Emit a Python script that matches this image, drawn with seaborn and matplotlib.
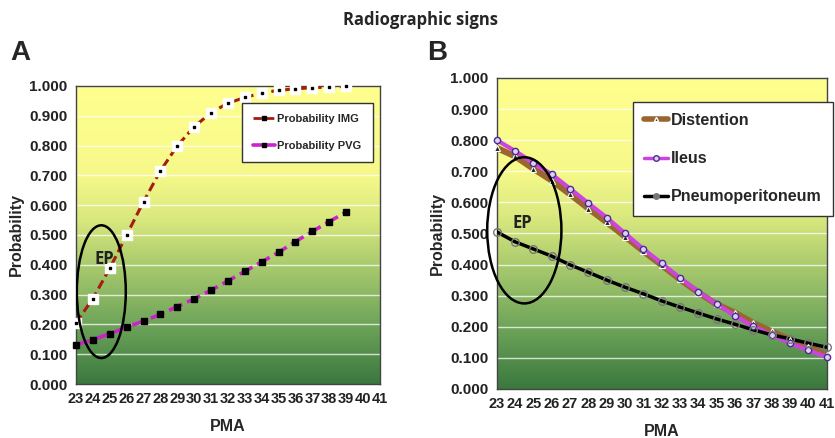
import numpy as np
import pandas as pd
import matplotlib
matplotlib.use('Agg')
import matplotlib.pyplot as plt
from matplotlib.patches import Ellipse
from matplotlib.colors import LinearSegmentedColormap
from matplotlib.ticker import FormatStrFormatter
import seaborn as sns

# panel A
pma_a = list(range(23, 40))
img = [0.205, 0.287, 0.388, 0.500, 0.612, 0.715, 0.799, 0.863, 0.910, 0.942,
       0.961, 0.976, 0.985, 0.990, 0.994, 0.996, 0.998]
pvg = [0.132, 0.149, 0.169, 0.191, 0.211, 0.234, 0.260, 0.286, 0.315, 0.346,
       0.378, 0.410, 0.442, 0.478, 0.512, 0.545, 0.577]

# panel B
pma_b = list(range(23, 42))
distention = [0.775, 0.748, 0.708, 0.670, 0.626, 0.580, 0.536, 0.490, 0.443, 0.398,
              0.352, 0.310, 0.272, 0.245, 0.212, 0.185, 0.158, 0.134, 0.110]
ileus = [0.800, 0.765, 0.727, 0.690, 0.644, 0.597, 0.551, 0.500, 0.450, 0.404,
         0.356, 0.313, 0.272, 0.235, 0.201, 0.174, 0.147, 0.124, 0.103]
pneumo = [0.505, 0.473, 0.450, 0.427, 0.399, 0.375, 0.350, 0.327, 0.306, 0.283,
          0.263, 0.244, 0.225, 0.208, 0.190, 0.174, 0.161, 0.147, 0.134]

xticks = list(range(23, 42))
yticks = [0.0, 0.1, 0.2, 0.3, 0.4, 0.5, 0.6, 0.7, 0.8, 0.9, 1.0]

df_a = pd.DataFrame({'PMA': pma_a, 'IMG': img, 'PVG': pvg})
df_b = pd.DataFrame({'PMA': pma_b, 'Distention': distention, 'Ileus': ileus,
                     'Pneumo': pneumo})

sns.set_style('white')
plt.rcParams['font.family'] = ['Liberation Sans', 'DejaVu Sans']

bg = LinearSegmentedColormap.from_list('bg', [
    (0.0, '#3a783e'), (0.2, '#6fa55a'), (0.4, '#aacb6e'),
    (0.55, '#d9e87e'), (0.7, '#f6f98a'), (1.0, '#ffff8e')])


def setup(ax):
    grad = np.linspace(0, 1, 256).reshape(-1, 1)
    ax.imshow(grad, cmap=bg, origin='lower', extent=[0, 1, 0, 1],
              transform=ax.transAxes, aspect='auto', zorder=0)
    for y in yticks[1:]:
        ax.axhline(y, color='white', lw=1, alpha=0.75, zorder=1)
    ax.set_xlim(23, 41)
    ax.set_ylim(0, 1)
    ax.set_xticks(xticks)
    ax.set_yticks(yticks)
    ax.yaxis.set_major_formatter(FormatStrFormatter('%.3f'))
    ax.tick_params(axis='both', direction='out', length=4, width=1,
                   color='#333333', pad=2)
    ax.tick_params(axis='y', labelsize=11)
    ax.tick_params(axis='x', labelsize=10.5)
    for lab in ax.get_xticklabels() + ax.get_yticklabels():
        lab.set_fontweight('bold')
        lab.set_color('#222222')
    for s in ax.spines.values():
        s.set_color('#444444')
        s.set_linewidth(1)
    ax.set_xlabel('PMA', fontsize=11.5, fontweight='bold', labelpad=9)
    ax.set_ylabel('Probability', fontsize=11.5, fontweight='bold', labelpad=4)


fig = plt.figure(figsize=(8.35, 4.38), dpi=100)
ax1 = fig.add_axes([0.091, 0.123, 0.364, 0.681])
ax2 = fig.add_axes([0.595, 0.112, 0.395, 0.710])

# ---- A ----
setup(ax1)
sns.lineplot(data=df_a, x='PMA', y='IMG', ax=ax1, color='#a51c10', lw=2.2,
             linestyle=(0, (3, 1.5)), zorder=3)
sns.lineplot(data=df_a, x='PMA', y='PVG', ax=ax1, color='#cc22cc', lw=2.6,
             linestyle=(0, (4, 1.5)), zorder=3)
ax1.plot(df_a['PMA'], df_a['IMG'], ls='none', marker='s', ms=7, mfc='white',
         mec='white', zorder=4, clip_on=False)
ax1.plot(df_a['PMA'], df_a['IMG'], ls='none', marker='s', ms=2, mfc='black',
         mec='black', zorder=5, clip_on=False)
ax1.plot(df_a['PMA'], df_a['PVG'], ls='none', marker='s', ms=3.8, mfc='black',
         mec='black', zorder=5, clip_on=False)
ax1.add_patch(Ellipse((24.5, 0.31), 2.9, 0.445, fill=False, lw=1.8,
                      ec='black', zorder=6))
ax1.text(24.7, 0.42, 'EP', fontsize=12, fontweight='bold', ha='center',
         va='center', color='#222222', family=['Open Sans', 'DejaVu Sans'],
         zorder=7)
hA = [plt.Line2D([], [], color='#a51c10', lw=2, ls=(0, (3, 1.5)), marker='s',
                 ms=2.5, mfc='black', mec='black'),
      plt.Line2D([], [], color='#cc22cc', lw=2.6, marker='s', ms=3,
                 mfc='black', mec='black')]
legA = ax1.legend(hA, ['Probability IMG', 'Probability PVG'], loc='upper left',
                  bbox_to_anchor=(0.546, 0.943), borderaxespad=0,
                  fancybox=False, frameon=True,
                  edgecolor='#333333', facecolor='white', framealpha=1,
                  prop={'size': 8, 'weight': 'bold'}, handlelength=2.0,
                  handletextpad=0.2, labelspacing=1.5, borderpad=1.0)
legA.get_frame().set_linewidth(1)
legA.set_zorder(8)

# ---- B ----
setup(ax2)
sns.lineplot(data=df_b, x='PMA', y='Distention', ax=ax2, color='#9a6630',
             lw=4.5, zorder=3)
sns.lineplot(data=df_b, x='PMA', y='Ileus', ax=ax2, color='#cc44dd',
             lw=3, zorder=4)
sns.lineplot(data=df_b, x='PMA', y='Pneumo', ax=ax2, color='black',
             lw=2.5, zorder=4)
ax2.plot(df_b['PMA'], df_b['Distention'], ls='none', marker='^', ms=4,
         mfc='#222222', mec='white', mew=0.8, zorder=5, clip_on=False)
ax2.plot(df_b['PMA'], df_b['Ileus'], ls='none', marker='o', ms=4.5,
         mfc='#e0d0f0', mec='#4a2a9a', mew=1, zorder=6, clip_on=False)
ax2.plot(df_b['PMA'], df_b['Pneumo'], ls='none', marker='o', ms=5.5,
         mfc='none', mec='#777777', mew=1, zorder=6, clip_on=False)
ax2.add_patch(Ellipse((24.5, 0.51), 4.05, 0.47, fill=False, lw=1.8,
                      ec='black', zorder=7, clip_on=False))
ax2.text(24.4, 0.535, 'EP', fontsize=12, fontweight='bold', ha='center',
         va='center', color='#222222', family=['Open Sans', 'DejaVu Sans'],
         zorder=7)
hB = [plt.Line2D([], [], color='#9a6630', lw=4, marker='^', ms=3,
                 mfc='#222222', mec='white'),
      plt.Line2D([], [], color='#cc44dd', lw=2.5, marker='o', ms=4,
                 mfc='#e0d0f0', mec='#4a2a9a'),
      plt.Line2D([], [], color='black', lw=2.5, marker='o', ms=4,
                 mfc='#777777', mec='#777777')]
legB = ax2.legend(hB, ['Distention', 'Ileus', 'Pneumoperitoneum'],
                  loc='upper left', bbox_to_anchor=(0.412, 0.923),
                  borderaxespad=0, fancybox=False, frameon=True,
                  edgecolor='#333333', facecolor='white', framealpha=1,
                  prop={'size': 11.5, 'weight': 'bold'}, handlelength=1.5,
                  handletextpad=0.2, labelspacing=1.45, borderpad=0.7)
legB.get_frame().set_linewidth(1)
legB.set_zorder(8)

fig.text(0.503, 0.955, 'Radiographic signs', ha='center', va='center',
         fontsize=12, fontweight='bold', family=['Open Sans', 'DejaVu Sans'])
fig.text(0.012, 0.88, 'A', fontsize=20, fontweight='bold', va='center')
fig.text(0.512, 0.88, 'B', fontsize=20, fontweight='bold', va='center')

fig.savefig('out.png', dpi=100)
